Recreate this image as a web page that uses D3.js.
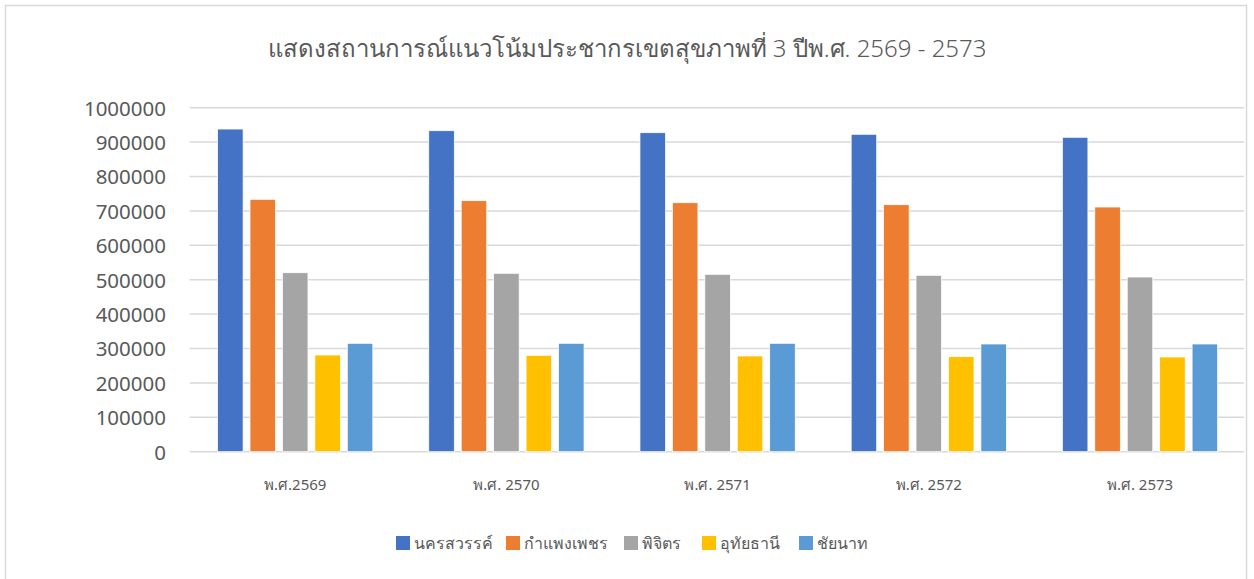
<!DOCTYPE html>
<html>
<head>
<meta charset="utf-8">
<script src="https://cdn.jsdelivr.net/npm/d3@7"></script>
<style>
    body { margin: 0; background: #fff; }
    svg text { font-family: "Noto Sans", "DejaVu Sans", sans-serif; fill: #595959; }
</style>
</head>
<body>
<svg id="chart"></svg>
<script>
const width = 1254;
const height = 579;

const title = "แสดงสถานการณ์แนวโน้มประชากรเขตสุขภาพที่ 3 ปีพ.ศ. 2569 - 2573";
const years = ["พ.ศ.2569", "พ.ศ. 2570", "พ.ศ. 2571", "พ.ศ. 2572", "พ.ศ. 2573"];
const provinces = ["นครสวรรค์", "กำแพงเพชร", "พิจิตร", "อุทัยธานี", "ชัยนาท"];
const colors = ["#4472C4", "#ED7D31", "#A5A5A5", "#FFC000", "#5B9BD5"];
const yTicks = [0, 100000, 200000, 300000, 400000, 500000, 600000, 700000, 800000, 900000, 1000000];

// values per province, one per year
const nakhonSawan = [938000, 933100, 927300, 922700, 914000];
const kamphaengPhet = [733700, 729700, 723800, 718000, 711300];
const phichit = [520300, 518600, 515700, 512800, 507800];
const uthaiThani = [281100, 280200, 278200, 276200, 275300];
const chaiNat = [315100, 315100, 315100, 313100, 313100];
const series = [nakhonSawan, kamphaengPhet, phichit, uthaiThani, chaiNat];

const svg = d3.select("#chart").attr("width", width).attr("height", height);

// outer chart border
svg.append("rect")
    .attr("x", 5.5).attr("y", 5.5)
    .attr("width", 1241).attr("height", 600)
    .attr("fill", "#fff")
    .attr("stroke", "#D9D9D9")
    .attr("stroke-width", 1.5);

const x0 = d3.scaleBand()
    .domain(years)
    .range([189.6, 1245.6])
    .paddingInner(2.19 / 8.27)
    .paddingOuter(2.19 / 8.27 / 2);

const x1 = d3.scaleBand()
    .domain(provinces)
    .range([0, x0.bandwidth()])
    .paddingInner(0.27 / 1.27)
    .paddingOuter(0);

const y = d3.scaleLinear().domain([0, 1000000]).range([451.7, 107.7]);

// gridlines
svg.append("g")
    .selectAll("line")
    .data(yTicks)
    .enter()
    .append("line")
    .attr("x1", 189.6)
    .attr("x2", 1244)
    .attr("y1", (d) => y(d))
    .attr("y2", (d) => y(d))
    .attr("stroke", "#D9D9D9")
    .attr("stroke-width", 1.5);

// y axis labels
const yAxis = d3.axisLeft(y).tickValues(yTicks).tickFormat(d3.format("d")).tickSize(0).tickPadding(0);
const yAxisG = svg.append("g").attr("transform", "translate(166,0)").call(yAxis);
yAxisG.select(".domain").remove();
yAxisG.selectAll("text")
    .attr("font-size", 20.5)
    .attr("dy", "0.36em")
    .attr("fill", "#595959");

// bars
const groups = svg.append("g")
    .selectAll("g")
    .data(years)
    .enter()
    .append("g")
    .attr("transform", (d) => `translate(${x0(d)},0)`);

groups.selectAll("rect")
    .data((d, i) => provinces.map((p, j) => ({ p, v: series[j][i], c: colors[j] })))
    .enter()
    .append("rect")
    .attr("x", (d) => x1(d.p))
    .attr("y", (d) => y(d.v))
    .attr("width", x1.bandwidth())
    .attr("height", (d) => y(0) - y(d.v))
    .attr("fill", (d) => d.c)
    .attr("stroke", "#fff")
    .attr("stroke-width", 0.75);

// x axis labels
const xAxis = d3.axisBottom(x0).tickSize(0).tickPadding(0);
const xAxisG = svg.append("g").attr("transform", "translate(0,485)").call(xAxis);
xAxisG.select(".domain").remove();
xAxisG.selectAll("text")
    .attr("font-size", 15)
    .attr("dy", "0.32em")
    .attr("fill", "#595959");

// title
svg.append("text")
    .attr("x", 627)
    .attr("y", 51)
    .attr("text-anchor", "middle")
    .attr("dominant-baseline", "middle")
    .attr("font-size", 24)
    .style("font-weight", 300)
    .text(title);

// legend
const legendX = [396, 506, 624, 702, 799];
const legend = svg.append("g")
    .selectAll("g")
    .data(provinces)
    .enter()
    .append("g")
    .attr("transform", (d, i) => `translate(${legendX[i]},536)`);

legend.append("rect")
    .attr("width", 14)
    .attr("height", 14)
    .attr("fill", (d, i) => colors[i]);

legend.append("text")
    .attr("x", 18)
    .attr("y", 7)
    .attr("dy", "0.35em")
    .attr("font-size", 16)
    .text((d) => d);
</script>
</body>
</html>
